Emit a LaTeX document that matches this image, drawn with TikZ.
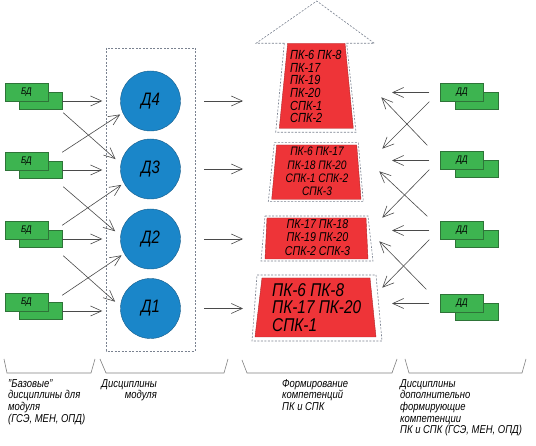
\documentclass[tikz,border=0pt]{standalone}
\usepackage{fontspec}
\setmainfont{Liberation Sans}[FakeStretch=0.83]
\usetikzlibrary{arrows.meta}
\definecolor{BoxGreen}{HTML}{3DB450}
\definecolor{BoxGreenDark}{HTML}{2E7438}
\definecolor{DiscBlue}{HTML}{1A86C9}
\definecolor{DiscBlueDark}{HTML}{155C8A}
\definecolor{CompRed}{HTML}{EE3438}
\definecolor{LineGray}{HTML}{4A4A4A}
\definecolor{FrameGray}{HTML}{7A8290}

\begin{document}
\begin{tikzpicture}[x=1pt,y=-1pt,>={Straight Barb[length=11pt,width=10pt]},
                    bdbox/.style={draw=BoxGreenDark, fill=BoxGreen, minimum width=43pt,
                                  minimum height=17pt, inner sep=0pt,
                                  font=\itshape\fontsize{9.5}{10}\selectfont},
                    disc/.style={circle, draw=DiscBlueDark, fill=DiscBlue, minimum size=60pt,
                                 inner sep=0pt, font=\itshape\fontsize{18}{20}\selectfont},
                    link/.style={draw=LineGray, line width=0.6pt},
                    frame/.style={draw=FrameGray, dash pattern=on 2pt off 1.5pt, line width=0.6pt},
                    block/.style={fill=CompRed, draw=CompRed!75!black, line width=0.4pt},
                    brace/.style={draw=gray, line width=0.6pt},
                    caption/.style={inner sep=0pt, font=\itshape\fontsize{11.4}{11.7}\selectfont}]
\fill[white] (0,0) rectangle (536,446);
\useasboundingbox (0,0) rectangle (536,446);

% left: base disciplines
\foreach \n/\y in {1/101,2/170,3/239,4/311} {
  \node[bdbox] (lb\n) at (40.5,\y) {};
  \node[bdbox, minimum height=18pt] (lf\n) at (26.5,\y-9) {БД};
}
% module disciplines
\draw[frame] (106,48) rectangle (195,351);
\node[disc] (d4) at (150.5,101) {Д4};
\node[disc] (d3) at (150.5,169) {Д3};
\node[disc] (d2) at (150.5,239) {Д2};
\node[disc] (d1) at (150.5,308.5) {Д1};

\draw[link,->,shorten >=18pt] (lb1.east) -- (lb1.east -| d4.west);
\draw[link,->,shorten >=18pt] (lb2.east) -- (lb2.east -| d3.west);
\draw[link,->,shorten >=18pt] (lb3.east) -- (lb3.east -| d2.west);
\draw[link,->,shorten >=18pt] (lb4.east) -- (lb4.east -| d1.west);
\draw[link,->,shorten >=7pt] ([shift={(1,3)}]lb1.south east) -- (d3.170);
\draw[link,->,shorten >=7pt] ([shift={(1,8)}]lb2.south east) -- (d2.174);
\draw[link,->,shorten >=7pt] ([shift={(1,8)}]lb3.south east) -- (d1.176);
\draw[link,->,shorten >=3pt] ([shift={(0,-9)}]lb2.north east) -- (d4.203);
\draw[link,->,shorten >=3pt] ([shift={(0,-5)}]lb3.north east) -- (d3.208);
\draw[link,->,shorten >=3pt] ([shift={(0,-7)}]lb4.north east) -- (d2.209);

% competences
\draw[frame] (284.3,43.3) -- (275.7,132.3) -- (356,132.3) -- (346.7,43.3)
             -- (374.3,43.3) -- (316.7,1) -- (256,43.3) -- cycle;
\draw[block] (287.7,43.3) -- (345,43.3) -- (353.3,128.3) -- (279.3,128.3) -- cycle;
\draw[frame] (274.3,142.7) -- (358.3,142.7) -- (363.3,201.7) -- (268.3,201.7) -- cycle;
\draw[block] (276.7,145) -- (356.7,145) -- (361,199.3) -- (271.7,199.3) -- cycle;
\draw[frame] (265,216) -- (368,216) -- (373,261) -- (261,261) -- cycle;
\draw[block] (267,218) -- (366,218) -- (368,259) -- (265,259) -- cycle;
\draw[frame] (257,275) -- (376,275) -- (382,341) -- (252,341) -- cycle;
\draw[block] (262,278) -- (370,278) -- (376,337) -- (255,337) -- cycle;

\node[anchor=west, align=left, inner sep=0pt, font=\itshape\fontsize{13.2}{12.7}\selectfont]
  (c1) at (290,86.7) {ПК-6 ПК-8\\ПК-17\\ПК-19\\ПК-20\\СПК-1\\СПК-2};
\node[align=center, inner sep=0pt, font=\itshape\fontsize{12.3}{13.3}\selectfont]
  (c2) at (317,171.7) {ПК-6 ПК-17\\ПК-18 ПК-20\\СПК-1 СПК-2\\СПК-3};
\node[align=center, inner sep=0pt, font=\itshape\fontsize{12.8}{13.5}\selectfont]
  (c3) at (317.5,237.5) {ПК-17 ПК-18\\ПК-19 ПК-20\\СПК-2 СПК-3};
\node[anchor=west, align=left, inner sep=0pt, font=\itshape\fontsize{18.5}{17.5}\selectfont]
  (c4) at (272,307.5) {ПК-6 ПК-8\\ПК-17 ПК-20\\СПК-1};

\foreach \n/\y in {4/101,3/169,2/239,1/308.5}
  \coordinate (mt\n) at (243,\y);
\draw[link,->] ([xshift=23.5pt]d4.east) -- (mt4);
\draw[link,->] ([xshift=23.5pt]d3.east) -- (mt3);
\draw[link,->] ([xshift=23.5pt]d2.east) -- (mt2);
\draw[link,->] ([xshift=23.5pt]d1.east) -- (mt1);

% right: additional disciplines
\foreach \n/\y in {1/92.5,2/160.5,3/230.5,4/303.5} {
  \node[bdbox] (rb\n) at (476.5,\y+8) {};
  \node[bdbox, minimum height=18pt] (rf\n) at (462,\y) {ДД};
  \coordinate (rt\n) at (392,\y);
  \draw[link,->] ([xshift=-11pt]rf\n.west) -- (rt\n);
}
\draw[link,->] ([xshift=-11pt]rf1.south west) -- ++(-47,47);
\draw[link,->] ([xshift=-11pt]rf2.south west) -- ++(-47,48);
\draw[link,->] ([xshift=-11pt]rf3.south west) -- ++(-47,48);
\draw[link,->] ([shift={(-13,-6)}]rf2.north west) -- ++(-46,-48);
\draw[link,->] ([shift={(-13,-5)}]rf3.north west) -- ++(-48,-45);
\draw[link,->] ([shift={(-14,-5)}]rf4.north west) -- ++(-47,-48);

% captions
\draw[brace] (4,359) -- (7,373) -- (91,373) -- (95,359);
\draw[brace] (100,359) -- (106,373) -- (224,373) -- (228,359);
\draw[brace] (242,360) -- (247,373) -- (392,373) -- (397,359);
\draw[brace] (405,359) -- (409,373) -- (522,373) -- (526,359);
\node[caption, anchor=north west, align=left] (base) at (8,379)
  {"Базовые"\\дисциплины для\\модуля\\(ГСЭ, МЕН, ОПД)};
\node[caption, anchor=north east, align=right] (mod) at (157,379)
  {Дисциплины\\модуля};
\node[caption, anchor=north west, align=left] (form) at (282,379)
  {Формирование\\компетенций\\ПК и СПК};
\node[caption, anchor=north west, align=left] (extra) at (400,379)
  {Дисциплины\\дополнительно\\формирующие\\компетенции\\ПК и СПК (ГСЭ, МЕН, ОПД)};
\end{tikzpicture}
\end{document}
